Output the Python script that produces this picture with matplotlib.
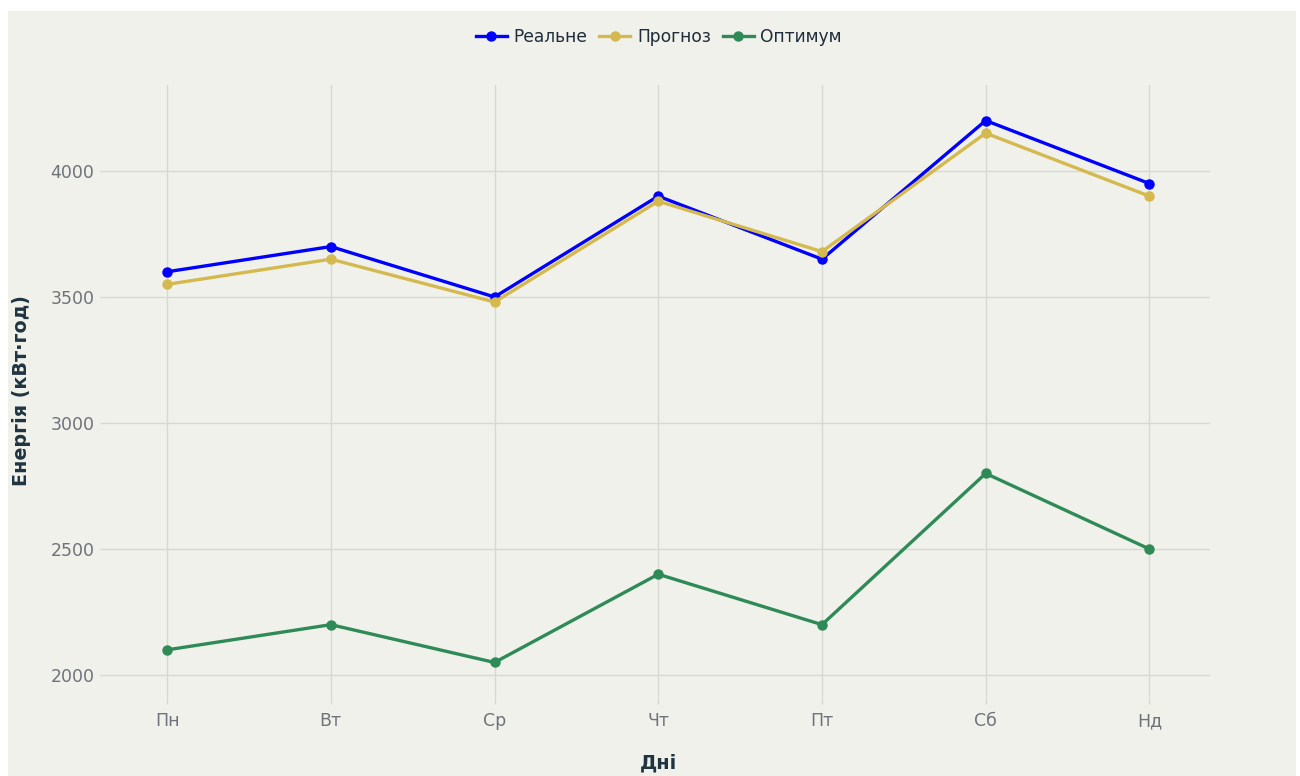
import matplotlib
matplotlib.use("Agg")
import matplotlib.pyplot as plt
from matplotlib.patches import Rectangle

# data
days = ["Пн", "Вт", "Ср", "Чт", "Пт", "Сб", "Нд"]
real = [3600, 3700, 3500, 3900, 3650, 4200, 3950]
forecast = [3550, 3650, 3480, 3880, 3680, 4150, 3900]
optimum = [2100, 2200, 2050, 2400, 2200, 2800, 2500]
yticks = [2000, 2500, 3000, 3500, 4000]

BG = "#f1f1ec"; GRID = "#d8d8d3"; TICK = "#6e737a"; INK = "#1f3440"
BLUE = "#0000ff"; GOLD = "#d4b94e"; GREEN = "#2e8b57"

plt.rcParams.update({"font.family": "DejaVu Sans"})

W, H = 1300, 776
fig = plt.figure(figsize=(W / 100, H / 100), dpi=100, facecolor="white")
fig.patches.append(Rectangle((8 / W, 0), 1288 / W, 1 - 11 / H, transform=fig.transFigure,
                             facecolor=BG, edgecolor="none", zorder=-5))
ax = fig.add_axes([107 / W, 1 - 697 / H, (1210 - 107) / W, (697 - 85) / H])
ax.set_facecolor(BG)

xs = list(range(len(days)))
series = [(real, BLUE, "Реальне"), (forecast, GOLD, "Прогноз"), (optimum, GREEN, "Оптимум")]
handles = []
for vals, col, lab in series:
    h, = ax.plot(xs, vals, color=col, lw=2.4, marker="o", ms=6.5, label=lab, zorder=3)
    handles.append(h)

ax.set_xlim(-0.367, 6.37)
ax.set_ylim(1913, 4341)
ax.set_xticks(xs, days)
ax.set_yticks(yticks)
ax.grid(True, color=GRID, lw=1.0)
ax.set_axisbelow(True)
for s in ax.spines.values():
    s.set_visible(False)
ax.tick_params(axis="both", colors=GRID, length=5, width=1.0, labelcolor=TICK, labelsize=12.5)
ax.tick_params(axis="x", pad=6)
ax.tick_params(axis="y", pad=4)

ax.set_xlabel("Дні", fontsize=14, fontweight="bold", color=INK, labelpad=17)
ax.set_ylabel("Енергія (кВт·год)", fontsize=13.8, fontweight="bold", color=INK, labelpad=14)

fig.legend(handles=handles, loc="center", bbox_to_anchor=(659 / W, 1 - 37 / H), ncol=3,
           frameon=False, fontsize=12.3, handlelength=1.8, handletextpad=0.4,
           columnspacing=0.7, labelcolor="#1f2d3a")

fig.savefig("out.png", dpi=100, facecolor="white")
